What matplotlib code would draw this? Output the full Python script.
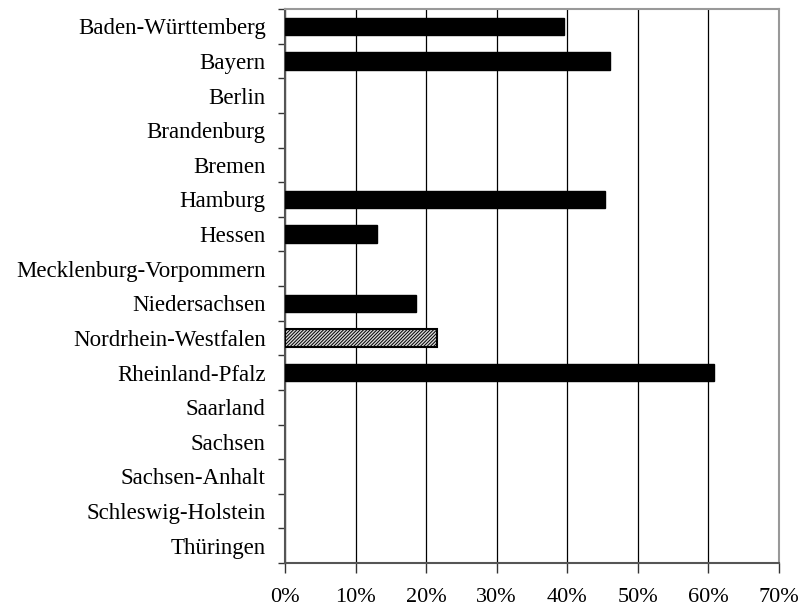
import matplotlib
matplotlib.use("Agg")
import matplotlib.pyplot as plt
import numpy as np

categories = ["Baden-Württemberg", "Bayern", "Berlin", "Brandenburg", "Bremen",
              "Hamburg", "Hessen", "Mecklenburg-Vorpommern", "Niedersachsen",
              "Nordrhein-Westfalen", "Rheinland-Pfalz", "Saarland", "Sachsen",
              "Sachsen-Anhalt", "Schleswig-Holstein", "Thüringen"]
values = [39.5, 46.0, 0, 0, 0, 45.3, 13.0, 0, 18.5, 21.6, 60.8, 0, 0, 0, 0, 0]
highlight = "Nordrhein-Westfalen"
xticks = [0, 10, 20, 30, 40, 50, 60, 70]

plt.rcParams['font.family'] = ['Liberation Serif', 'DejaVu Serif']
plt.rcParams['hatch.linewidth'] = 0.7

fig = plt.figure(figsize=(8.04, 6.07), dpi=100)
ax = fig.add_axes([285/804, 1-563/607, (779-285)/804, (563-9)/607])

y = np.arange(len(categories))
for yi, (c, v) in enumerate(zip(categories, values)):
    if v <= 0:
        continue
    if c == highlight:
        ax.barh(yi, v, height=0.5, color='#d8d8d8', edgecolor='black', hatch='//////////', linewidth=1.5, zorder=3)
    else:
        ax.barh(yi, v, height=0.5, color='black', edgecolor='black', zorder=3)

ax.set_xlim(0, 70)
ax.set_ylim(len(categories) - 0.5, -0.5)
ax.set_xticks(xticks)
ax.set_xticklabels([f"{t}%" for t in xticks], fontsize=16)
ax.xaxis.grid(True, color='black', linewidth=0.9, zorder=0)
ax.set_axisbelow(True)

ax.set_yticks(np.arange(-0.5, len(categories)), minor=False)
ax.set_yticklabels([])
ax.set_yticks(y, minor=True)
ax.set_yticklabels(categories, minor=True, fontsize=16.5)
ax.tick_params(axis='y', which='major', length=5, width=1, color='#333333', direction='out')
ax.tick_params(axis='y', which='minor', length=0, pad=14)
ax.tick_params(axis='x', length=7, width=1, color='#333333', direction='out', pad=11)

ax.spines['left'].set_color('#555555')
ax.spines['left'].set_linewidth(1.5)
ax.spines['bottom'].set_color('#555555')
ax.spines['bottom'].set_linewidth(1.5)
ax.spines['top'].set_color('#999999')
ax.spines['top'].set_linewidth(1.5)
ax.spines['right'].set_color('#999999')
ax.spines['right'].set_linewidth(1.5)

fig.savefig("out.png", dpi=100)
